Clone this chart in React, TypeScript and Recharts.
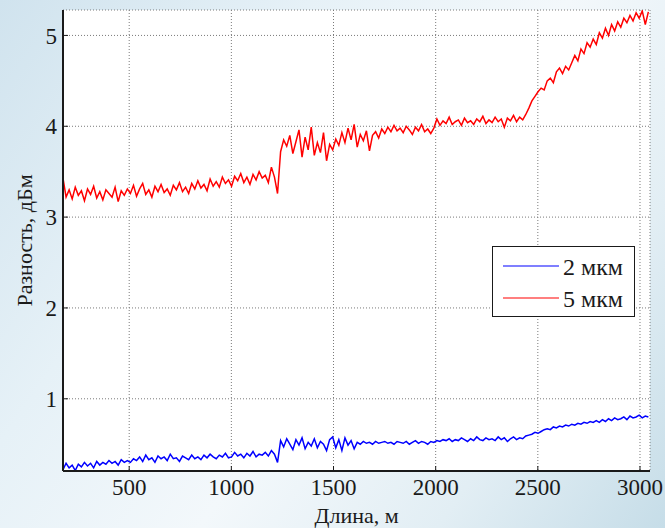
import { LineChart, Line, XAxis, YAxis, CartesianGrid, Legend } from 'recharts';

// samples every 15 m starting at 176 m
const START_M = 176;
const STEP_M = 15;

// 5 мкм, dBm
const diff5um = [
  3.43, 3.22, 3.30, 3.20, 3.33, 3.24, 3.29, 3.18, 3.31, 3.25, 3.34, 3.21, 3.28, 3.19, 3.30, 3.26, 3.22, 3.33, 3.17, 3.29, 3.24, 3.31,
  3.26, 3.35, 3.23, 3.31, 3.37, 3.25, 3.30, 3.22, 3.34, 3.28, 3.36, 3.27, 3.31, 3.24, 3.35, 3.30, 3.38, 3.28, 3.33, 3.26, 3.37, 3.31,
  3.40, 3.32, 3.36, 3.29, 3.42, 3.34, 3.39, 3.33, 3.44, 3.37, 3.41,
  3.34, 3.45, 3.40, 3.48, 3.38, 3.44, 3.36, 3.47, 3.41, 3.50, 3.43, 3.46, 3.38, 3.55, 3.44,
  3.26,
  3.72, 3.85, 3.78, 3.90, 3.70, 3.83, 3.96, 3.66, 3.88, 3.74, 3.99, 3.68, 3.82, 3.71, 3.93, 3.62, 3.80,
  3.74, 3.86, 3.79, 3.93, 3.82, 3.98, 3.85, 4.02, 3.77, 3.91, 3.84, 3.95, 3.73, 3.90, 3.94, 3.87, 3.97,
  3.92, 3.99, 3.94, 4.01, 3.95, 3.98, 3.93, 4.00, 3.96, 3.91, 3.99, 3.95, 4.02, 3.94, 3.97, 3.92, 3.98,
  4.08, 4.01, 4.06, 4.03, 4.10, 4.02, 4.05, 4.07, 4.01, 4.09, 4.04, 4.06, 4.02, 4.08, 4.05, 4.11, 4.03, 4.07, 4.04, 4.10,
  4.05, 4.08, 3.99, 4.09, 4.06, 4.12, 4.05, 4.10, 4.07, 4.13,
  4.20, 4.28, 4.33, 4.38, 4.42, 4.40, 4.50, 4.53, 4.48, 4.60, 4.64, 4.58, 4.66, 4.62, 4.70, 4.78, 4.72, 4.85, 4.80, 4.92,
  4.87, 4.96, 4.90, 5.03, 4.97, 5.08, 5.00, 5.12, 5.05, 5.15, 5.09, 5.19, 5.14, 5.22, 5.16, 5.25, 5.19, 5.27, 5.12, 5.26,
];

// 2 мкм, dBm
const diff2um = [
  0.22, 0.29, 0.24, 0.27, 0.21, 0.28, 0.25, 0.30, 0.26, 0.29, 0.24, 0.31, 0.27, 0.30, 0.28, 0.32, 0.29, 0.31, 0.27, 0.33, 0.30, 0.32,
  0.30, 0.34, 0.32, 0.36, 0.31, 0.38, 0.33, 0.35, 0.30, 0.37, 0.34, 0.36, 0.32, 0.39, 0.34, 0.35, 0.31, 0.37, 0.35, 0.33, 0.38, 0.34,
  0.36, 0.33, 0.38, 0.35, 0.39, 0.36, 0.34, 0.38, 0.36, 0.40, 0.35,
  0.36, 0.41, 0.37, 0.39, 0.35, 0.40, 0.37, 0.42, 0.36, 0.39, 0.38, 0.41, 0.37, 0.43, 0.39,
  0.30,
  0.54, 0.47, 0.56, 0.50, 0.44, 0.55, 0.49, 0.57, 0.45, 0.52, 0.48, 0.56, 0.46, 0.53, 0.50, 0.43, 0.55,
  0.58, 0.46, 0.55, 0.43, 0.57, 0.49, 0.54, 0.45, 0.52, 0.50, 0.53, 0.51, 0.52, 0.50, 0.53, 0.51, 0.52,
  0.53, 0.51, 0.52, 0.50, 0.53, 0.52, 0.51, 0.53, 0.50, 0.52, 0.54, 0.51, 0.53, 0.52, 0.50, 0.53, 0.52,
  0.54, 0.53, 0.55, 0.54, 0.56, 0.53, 0.55, 0.54, 0.57, 0.55, 0.53, 0.56, 0.54, 0.58, 0.55, 0.54, 0.57, 0.55, 0.56, 0.54,
  0.58, 0.55, 0.57, 0.53, 0.56, 0.58, 0.55, 0.57, 0.56, 0.59,
  0.60, 0.61, 0.63, 0.62, 0.64, 0.66, 0.67, 0.66, 0.69, 0.68, 0.70, 0.69, 0.71, 0.70, 0.72, 0.71, 0.73, 0.72, 0.74, 0.73,
  0.75, 0.74, 0.76, 0.74, 0.77, 0.75, 0.78, 0.76, 0.79, 0.77, 0.78, 0.80, 0.77, 0.81, 0.79, 0.80, 0.82, 0.79, 0.81, 0.80,
];

const xTicks = [500, 1000, 1500, 2000, 2500, 3000];
const yTicks = [1, 2, 3, 4, 5];

const data = diff5um.map((v, i) => ({
  length: START_M + i * STEP_M,
  um5: v,
  um2: diff2um[i],
}));

const FONT = '"Liberation Serif", "DejaVu Serif", "Times New Roman", serif';
const INK = '#1a1a1a';

function LegendBox({ payload }: { payload?: { value: string; color: string }[] }) {
  if (!payload?.length) return null;
  return (
    <div
      style={{
        width: 143,
        height: 71,
        boxSizing: 'border-box',
        border: `1px solid ${INK}`,
        background: '#fff',
        paddingTop: 4,
        fontFamily: FONT,
        fontSize: 24,
        color: INK,
      }}
    >
      {payload.map((p) => (
        <div key={p.value} style={{ display: 'flex', alignItems: 'center', height: 32 }}>
          <svg width={60} height={8} style={{ marginLeft: 10 }}>
            <line x1={0} x2={56} y1={3} y2={3} stroke={p.color} strokeWidth={1.2} />
          </svg>
          <span style={{ lineHeight: 1 }}>{p.value}</span>
        </div>
      ))}
    </div>
  );
}

export default function App() {
  return (
    <div
      style={{
        position: 'absolute',
        left: 0,
        top: 0,
        width: 665,
        height: 528,
        fontFamily: FONT,
        background:
          'linear-gradient(125deg, #d0e3ee 0%, #e6f1f7 30%, #f3f8fb 55%, #e2eef4 78%, #c6dde8 100%)',
      }}
    >
      <LineChart
        width={665}
        height={528}
        data={data}
        margin={{ top: 10, right: 15, bottom: 0, left: 0 }}
        style={{ fontFamily: FONT }}
      >
        <CartesianGrid fill="#fff" stroke="#7a7a7a" strokeDasharray="1 2" />
        <XAxis
          dataKey="length"
          type="number"
          domain={[176, 3049]}
          allowDataOverflow
          ticks={xTicks}
          height={57}
          tickSize={-5}
          tickMargin={13}
          axisLine={{ stroke: INK, strokeWidth: 2 }}
          tickLine={{ stroke: INK }}
          tick={{ fill: INK, fontSize: 23, fontFamily: FONT }}
          label={{ value: 'Длина, м', position: 'insideBottom', offset: 5, fill: INK, fontSize: 22, fontFamily: FONT }}
        />
        <XAxis
          xAxisId="top"
          orientation="top"
          type="number"
          domain={[176, 3049]}
          allowDataOverflow
          ticks={xTicks}
          height={0}
          tickSize={-5}
          axisLine={{ stroke: INK, strokeWidth: 2 }}
          tickLine={{ stroke: INK }}
          tick={false}
        />
        <YAxis
          type="number"
          domain={[0.205, 5.28]}
          allowDataOverflow
          ticks={yTicks}
          width={63}
          tickSize={-5}
          tickMargin={11}
          axisLine={{ stroke: INK, strokeWidth: 2 }}
          tickLine={{ stroke: INK }}
          tick={{ fill: INK, fontSize: 23, fontFamily: FONT }}
          label={{ value: 'Разность, дБм', angle: -90, position: 'center', dx: -7, fill: INK, fontSize: 22, fontFamily: FONT }}
        />
        <YAxis
          yAxisId="right"
          orientation="right"
          type="number"
          domain={[0.205, 5.28]}
          allowDataOverflow
          ticks={yTicks}
          width={0}
          tickSize={-5}
          axisLine={{ stroke: INK, strokeWidth: 2 }}
          tickLine={{ stroke: INK }}
          tick={false}
        />
        <Legend
          layout="horizontal"
          verticalAlign="middle"
          align="center"
          wrapperStyle={{ position: 'absolute', left: 492, top: 246, width: 143, height: 71 }}
          content={<LegendBox />}
        />
        <Line
          name="2 мкм"
          dataKey="um2"
          type="linear"
          stroke="#0000ff"
          strokeWidth={1.5}
          dot={false}
          isAnimationActive={false}
        />
        <Line
          name="5 мкм"
          dataKey="um5"
          type="linear"
          stroke="#ff0000"
          strokeWidth={1.5}
          dot={false}
          isAnimationActive={false}
        />
      </LineChart>
    </div>
  );
}
